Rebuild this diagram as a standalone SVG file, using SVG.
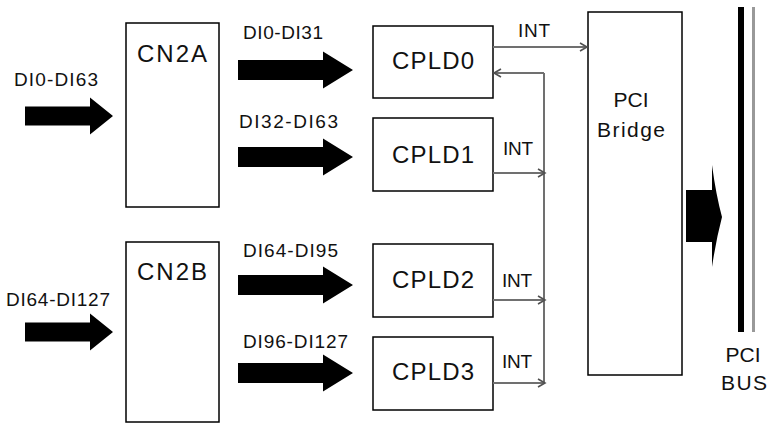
<svg xmlns="http://www.w3.org/2000/svg" width="771" height="424" viewBox="0 0 771 424">
<style>
.box{fill:#fff;stroke:#000;stroke-width:1.5}
.t{font-family:"Liberation Sans",Arial,sans-serif;fill:#111}
.bl{font-size:24px;text-anchor:middle}
.pl{font-size:21px;text-anchor:middle}
.dl{font-size:19px}
.il{font-size:19px}
.fat{fill:#000}
.con{fill:none;stroke:#707070;stroke-width:2}
</style>
<defs>
<marker id="ah" markerWidth="10" markerHeight="10" refX="8" refY="5" orient="auto" markerUnits="userSpaceOnUse">
<path d="M1,1 L8,5 L1,9" fill="none" stroke="#505050" stroke-width="1.6"/>
</marker>
<path id="midArrow" d="M0,-10 H85 V-18.5 L115,0 L85,18.5 V10 H0 Z"/>
<path id="leftArrow" d="M0,-9.5 H65 V-18.5 L88,0 L65,18.5 V9.5 H0 Z"/>
</defs>
<rect width="771" height="424" fill="#fff"/>

<g id="input-arrows">
<use href="#leftArrow" class="fat" x="25" y="116"/>
<text class="t dl" x="14" y="86" textLength="84" lengthAdjust="spacing">DI0-DI63</text>
<use href="#leftArrow" class="fat" x="25" y="332"/>
<text class="t dl" x="6" y="306" textLength="104" lengthAdjust="spacing">DI64-DI127</text>
</g>

<g id="CN2A">
<rect class="box" x="126" y="23" width="93" height="184"/>
<text class="t bl" x="172" y="62" textLength="70" lengthAdjust="spacing">CN2A</text>
</g>
<g id="CN2B">
<rect class="box" x="126" y="242" width="93" height="180"/>
<text class="t bl" x="172" y="280" textLength="70" lengthAdjust="spacing">CN2B</text>
</g>

<g id="bus-arrows">
<use href="#midArrow" class="fat" x="238" y="70"/>
<text class="t dl" x="243" y="39" textLength="80" lengthAdjust="spacing">DI0-DI31</text>
<use href="#midArrow" class="fat" x="238" y="157"/>
<text class="t dl" x="239" y="128" textLength="99" lengthAdjust="spacing">DI32-DI63</text>
<use href="#midArrow" class="fat" x="238" y="285"/>
<text class="t dl" x="243" y="257" textLength="95" lengthAdjust="spacing">DI64-DI95</text>
<use href="#midArrow" class="fat" x="238" y="373"/>
<text class="t dl" x="243" y="348" textLength="105" lengthAdjust="spacing">DI96-DI127</text>
</g>

<g id="CPLD0">
<rect class="box" x="373" y="26" width="120" height="72"/>
<text class="t bl" x="433" y="69" textLength="82" lengthAdjust="spacing">CPLD0</text>
</g>
<g id="CPLD1">
<rect class="box" x="373" y="118" width="120" height="73"/>
<text class="t bl" x="433" y="163" textLength="82" lengthAdjust="spacing">CPLD1</text>
</g>
<g id="CPLD2">
<rect class="box" x="373" y="244" width="120" height="73"/>
<text class="t bl" x="433" y="288" textLength="82" lengthAdjust="spacing">CPLD2</text>
</g>
<g id="CPLD3">
<rect class="box" x="373" y="337" width="120" height="73"/>
<text class="t bl" x="433" y="380" textLength="82" lengthAdjust="spacing">CPLD3</text>
</g>

<g id="PCI-Bridge">
<rect class="box" x="588" y="12" width="94" height="363"/>
<text class="t pl" x="631" y="107">PCI</text>
<text class="t pl" x="631" y="137" textLength="68" lengthAdjust="spacing">Bridge</text>
</g>

<g id="connectors">
<line class="con" x1="493" y1="47" x2="587" y2="47" marker-end="url(#ah)"/>
<text class="t il" x="518" y="37" textLength="32" lengthAdjust="spacing">INT</text>
<line class="con" x1="544" y1="73" x2="544" y2="384"/>
<line class="con" x1="544" y1="73" x2="494" y2="73" marker-end="url(#ah)"/>
<line class="con" x1="493" y1="173" x2="545" y2="173" marker-end="url(#ah)"/>
<text class="t il" x="503" y="155" textLength="30" lengthAdjust="spacing">INT</text>
<line class="con" x1="493" y1="300" x2="545" y2="300" marker-end="url(#ah)"/>
<text class="t il" x="502" y="287" textLength="30" lengthAdjust="spacing">INT</text>
<line class="con" x1="493" y1="383" x2="545" y2="383" marker-end="url(#ah)"/>
<text class="t il" x="502" y="368" textLength="30" lengthAdjust="spacing">INT</text>
</g>

<g id="PCI-BUS">
<path class="fat" d="M686,190 H712 V165 Q716,195 722,217 Q716,240 712,267 V242 H686 Z"/>
<rect x="738" y="7" width="6" height="325" fill="#000"/>
<rect x="752" y="7" width="3" height="325" fill="#999"/>
<text class="t pl" x="743" y="362">PCI</text>
<text class="t pl" x="744" y="390" textLength="46" lengthAdjust="spacing">BUS</text>
</g>
</svg>
